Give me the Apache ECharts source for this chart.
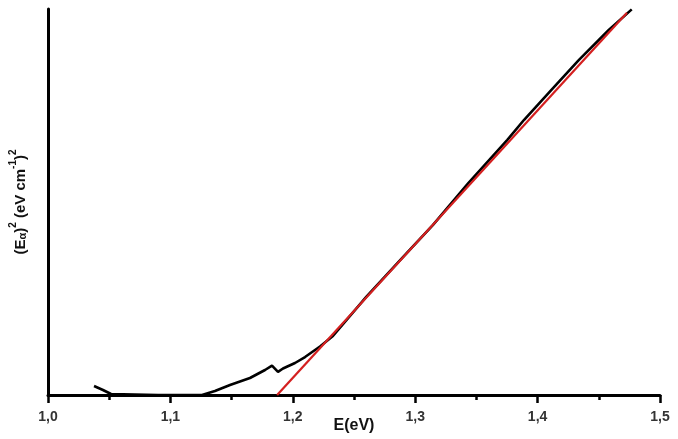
<!DOCTYPE html>
<html>
<head>
<meta charset="utf-8">
<script src="https://cdn.jsdelivr.net/npm/echarts@6/dist/echarts.min.js"></script>
<style>
html,body{margin:0;padding:0;background:#fff;}
#chart{width:678px;height:439px;}
</style>
</head>
<body>
<div id="chart"></div>
<script>
// Measured curve (E in eV, (E·alpha)^2 in arbitrary units 0..100)
const blackX = [1.0376,1.0449,1.0515,1.0531,1.0900,1.1258,1.1364,1.1487,1.1650,1.1773,1.1830,1.1879,1.1920,1.2018,1.2100,1.2222,1.2328,1.2600,1.2900,1.3144,1.3434,1.3753,1.3890,1.4100,1.4338,1.4579,1.4769];
const blackY = [2.33,1.30,0.26,0,0,0,1.04,2.59,4.40,6.48,7.60,6.00,6.87,8.29,9.84,12.56,15.28,25.4,35.7,44.0,54.9,66.1,71.3,78.6,86.8,94.5,99.9];
// Linear fit (Tauc extrapolation)
const redX = [1.1872, 1.4730];
const redY = [0, 99.0];
// Tick labels
const xTickValues = [1.0,1.1,1.2,1.3,1.4,1.5];
const xTickLabels = ['1,0','1,1','1,2','1,3','1,4','1,5'];

const blackData = blackX.map((x,i)=>[x, blackY[i]]);
const redData = redX.map((x,i)=>[x, redY[i]]);

const chart = echarts.init(document.getElementById('chart'), null, {renderer:'canvas'});
chart.setOption({
  animation:false,
  backgroundColor:'#ffffff',
  grid:{left:48,right:18,top:9,bottom:44,containLabel:false,outerBoundsMode:'none'},
  xAxis:{
    type:'value', min:1.0, max:1.5, interval:0.1,
    axisLine:{show:true,onZero:false,lineStyle:{color:'#000',width:3}},
    axisTick:{show:true,inside:false,length:8,lineStyle:{color:'#000',width:2.5}},
    minorTick:{show:true,splitNumber:2,length:5,lineStyle:{color:'#000',width:2.5}},
    splitLine:{show:false},
    axisLabel:{
      margin:15, color:'#333', fontSize:14, fontWeight:'bold', fontFamily:'Liberation Sans, Arial, sans-serif',
      formatter:function(v){
        for(let i=0;i<xTickValues.length;i++){ if(Math.abs(v-xTickValues[i])<1e-6) return xTickLabels[i]; }
        return '';
      }
    },
    name:'E(eV)', nameLocation:'middle', nameGap:23, nameMoveOverlap:false,
    nameTextStyle:{color:'#111',fontSize:16,fontWeight:'bold',fontFamily:'Liberation Sans, Arial, sans-serif'}
  },
  yAxis:{
    type:'value', min:0, max:100,
    axisLine:{show:true,onZero:false,lineStyle:{color:'#000',width:3}},
    axisTick:{show:false},
    axisLabel:{show:false},
    splitLine:{show:false},
    name:'{b|(E}{a|α}{b|)}{s|2}{b| (eV cm}{s|-1}{b|)}{s|2}',
    nameLocation:'middle', nameGap:20, nameRotate:90, nameMoveOverlap:false,
    nameTextStyle:{
      color:'#111', fontFamily:'Liberation Sans, Arial, sans-serif',
      rich:{
        b:{fontSize:15,fontWeight:'bold',color:'#111',fontFamily:'Liberation Sans, Arial, sans-serif',lineHeight:20,verticalAlign:'bottom'},
        a:{fontSize:11,fontWeight:'bold',color:'#111',fontFamily:'Liberation Sans, Arial, sans-serif',lineHeight:20,verticalAlign:'bottom'},
        s:{fontSize:10,fontWeight:'bold',color:'#111',fontFamily:'Liberation Sans, Arial, sans-serif',lineHeight:20,verticalAlign:'top'}
      }
    }
  },
  series:[
    {type:'line',data:blackData,showSymbol:false,symbol:'none',smooth:false,
     lineStyle:{color:'#000',width:2.6},z:2},
    {type:'line',data:redData,showSymbol:false,symbol:'none',
     lineStyle:{color:'#d42020',width:2.2},z:3}
  ]
});
</script>
</body>
</html>
